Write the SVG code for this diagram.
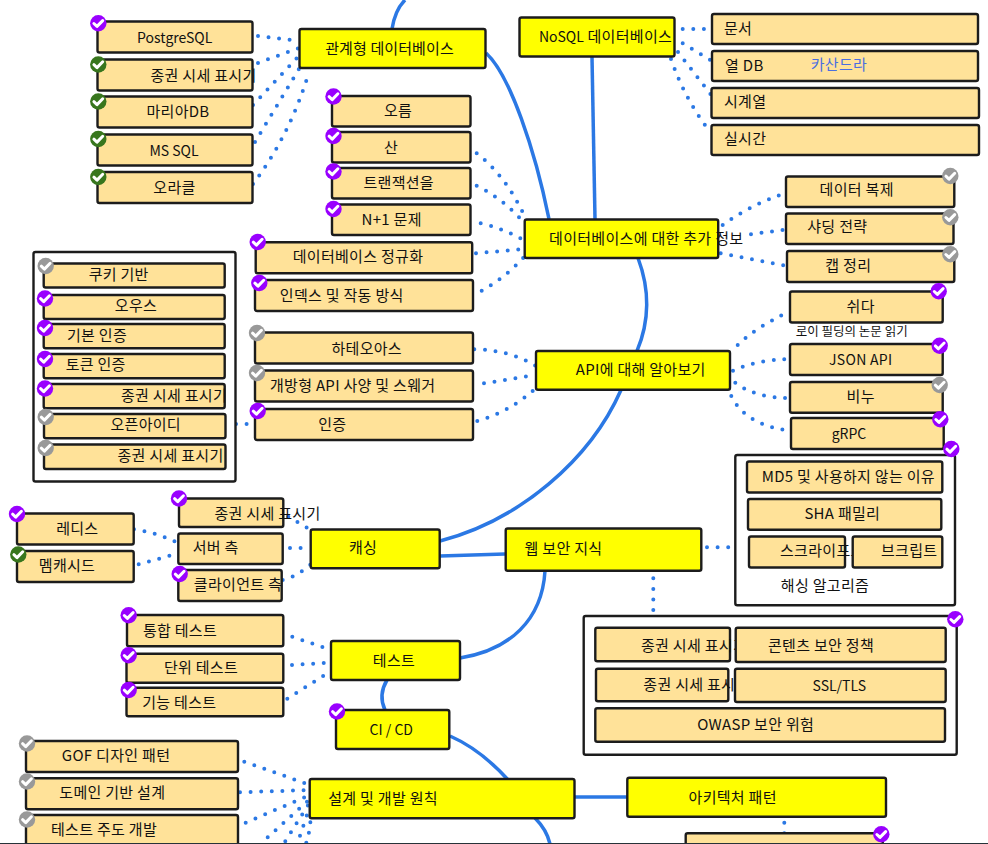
<svg xmlns="http://www.w3.org/2000/svg" width="988" height="844" viewBox="0 0 988 844">
<style>
text{font-family:"Noto Sans CJK KR","Noto Sans",sans-serif;font-size:15px;letter-spacing:.3px;fill:#111;text-anchor:middle}
.s{text-anchor:start}
.l{font-size:14px;letter-spacing:0}
.o{fill:#ffe299;stroke:#1c1c1c;stroke-width:2.4}
.y{fill:#ff0;stroke:#1c1c1c;stroke-width:2.4}
.w{fill:#fff;stroke:#1c1c1c;stroke-width:2.4}
.t{fill:none;stroke:#2b78e4;stroke-width:3.5}
.d{fill:none;stroke:#2b78e4;stroke-width:4;stroke-linecap:round;stroke-dasharray:0 10.6}
.p{fill:#90f}.g{fill:#38761d}.e{fill:#999}
.c{fill:none;stroke:#fff;stroke-width:3;stroke-linecap:round;stroke-linejoin:round}
</style>
<defs>
<g id="ck"><path class="c" d="M-4.400 0.200L-1.300 3.100L4.400 -2.700"/></g>
</defs>
<rect width="988" height="844" fill="#fff"/>
<g id="connectors">
<path class="t" d="M405 0Q395 10 392 29"/>
<path class="t" d="M486 53C510 75 535 150 549 219"/>
<path class="t" d="M592 57L595 219"/>
<path class="t" d="M638 258C650 290 650 320 637 351"/>
<path class="t" d="M621 390C590 460 520 520 440 541"/>
<path class="t" d="M440 556L505 554"/>
<path class="t" d="M545 571C542 620 510 650 460 658"/>
<path class="t" d="M387 680Q378 695 385 710"/>
<path class="t" d="M450 736C475 747 495 765 510 782"/>
<path class="t" d="M535 818C542 825 548 835 550 844"/>
<path class="t" d="M575 797L627 797"/>
<path class="d" d="M258 36L300 41"/>
<path class="d" d="M258 63L299 48"/>
<path class="d" d="M253 105L297 58"/>
<path class="d" d="M255 142L299 69"/>
<path class="d" d="M253 184Q290 135 309 72"/>
<path class="d" d="M682.700 29L712 29"/>
<path class="d" d="M682.700 43.300L712 61"/>
<path class="d" d="M678 52L712 96"/>
<path class="d" d="M671 59Q685 100 711 133"/>
<path class="d" d="M476.700 153.300Q505 175 524 215"/>
<path class="d" d="M476.700 185.700Q505 200 526 225"/>
<path class="d" d="M480.700 223.300Q505 229 525 241"/>
<path class="d" d="M476 253.300L525 249"/>
<path class="d" d="M481.700 290.700Q505 278 525 256"/>
<path class="d" d="M722.700 225Q750 205 786 193"/>
<path class="d" d="M751 234.300L786 229.500"/>
<path class="d" d="M720.700 253.300L787 266"/>
<path class="d" d="M474.300 349.300Q510 350 536 366"/>
<path class="d" d="M484 383.300L536 375"/>
<path class="d" d="M477.300 421Q510 412 537 387"/>
<path class="d" d="M737.700 345Q755 328 790 311"/>
<path class="d" d="M733 370.700Q755 360 790 359"/>
<path class="d" d="M735.300 382.700Q755 398 790 398"/>
<path class="d" d="M731.300 396Q745 425 791 431"/>
<path class="d" d="M707 547.300L735 547.300"/>
<path class="d" d="M653.300 578.300L653.300 616"/>
<path class="d" d="M236 424L255 424"/>
<path class="d" d="M134 529.300Q155 532 178 543"/>
<path class="d" d="M138.700 564.300L178 553.500"/>
<path class="d" d="M288.300 516.700L311 530"/>
<path class="d" d="M290 548L311 548"/>
<path class="d" d="M282.700 580Q298 576 311 564"/>
<path class="d" d="M292.300 636.700L331 650"/>
<path class="d" d="M292 665L331 662.500"/>
<path class="d" d="M287.300 698.700L331 671"/>
<path class="d" d="M244.300 761.700L310 785"/>
<path class="d" d="M240 792.300L310 790"/>
<path class="d" d="M245.700 822.700L310 795"/>
<path class="d" d="M267.700 837.300L310 799"/>
<path class="d" d="M285.300 841.300L310 802"/>
<path class="d" d="M300 835.700L310 806"/>
<path class="d" d="M306.300 842.700Q310 832 311 814"/>
<path class="d" d="M784.300 822.700L784.300 834"/>
</g>
<g id="n-postgres"><rect class="o" x="97.500" y="21.500" width="155" height="31" rx="2"/><text class="l" x="174.700" y="42.500">PostgreSQL</text><circle class="p" cx="98.300" cy="23.300" r="8.200"/><use href="#ck" x="98.300" y="23.300"/></g>
<g id="n-rel-quote"><rect class="o" x="97.500" y="59.500" width="155" height="31" rx="2"/><text x="203.500" y="80.500">종권 시세 표시기</text><circle class="g" cx="98.300" cy="64.500" r="8.200"/><use href="#ck" x="98.300" y="64.500"/></g>
<g id="n-maria"><rect class="o" x="97.500" y="96.500" width="155" height="31" rx="2"/><text x="178" y="116.500">마리아DB</text><circle class="g" cx="98.300" cy="101.500" r="8.200"/><use href="#ck" x="98.300" y="101.500"/></g>
<g id="n-mssql"><rect class="o" x="97.500" y="134.500" width="155" height="31" rx="2"/><text class="l" x="174" y="155.500">MS SQL</text><circle class="g" cx="98.300" cy="139" r="8.200"/><use href="#ck" x="98.300" y="139"/></g>
<g id="n-oracle"><rect class="o" x="97.500" y="172" width="155" height="31" rx="2"/><text x="174.500" y="192.500">오라클</text><circle class="g" cx="98.300" cy="177" r="8.200"/><use href="#ck" x="98.300" y="177"/></g>
<g id="n-relational"><rect class="y" x="299.500" y="29" width="186" height="39" rx="2"/><text x="389.500" y="53.500" style="letter-spacing:.1px">관계형 데이터베이스</text></g>
<g id="n-nosql"><rect class="y" x="519.500" y="17.500" width="155" height="39" rx="2"/><text x="605.500" y="41.500"><tspan class="l">NoSQL</tspan> 데이터베이스</text></g>
<g id="n-doc"><rect class="o" x="712" y="14" width="266" height="30" rx="2"/><text class="s" x="724" y="34">문서</text></g>
<g id="n-col"><rect class="o" x="712" y="51" width="266" height="30" rx="2"/><text class="s" x="725" y="71">열 DB</text><text class="s" x="810.700" y="70" style="fill:#4a6ee0">카산드라</text></g>
<g id="n-ts"><rect class="o" x="711.500" y="88" width="267.500" height="30" rx="2"/><text class="s" x="724" y="107">시계열</text></g>
<g id="n-rt"><rect class="o" x="711.500" y="125" width="267.500" height="30" rx="2"/><text class="s" x="724" y="144">실시간</text></g>
<g id="n-name"><rect class="o" x="332" y="96" width="138.500" height="30.500" rx="2"/><text x="398" y="116">오름</text><circle class="p" cx="333.500" cy="96.500" r="8.200"/><use href="#ck" x="333.500" y="96.500"/></g>
<g id="n-acid"><rect class="o" x="332" y="132" width="138.500" height="30.500" rx="2"/><text x="391" y="153">산</text><circle class="p" cx="333.500" cy="136" r="8.200"/><use href="#ck" x="333.500" y="136"/></g>
<g id="n-tx"><rect class="o" x="332" y="168" width="138.500" height="30.500" rx="2"/><text x="398.700" y="187.500">트랜잭션을</text><circle class="p" cx="333.500" cy="171.500" r="8.200"/><use href="#ck" x="333.500" y="171.500"/></g>
<g id="n-n1"><rect class="o" x="332" y="204.500" width="138.500" height="30.500" rx="2"/><text x="391.700" y="224.500">N+1 문제</text><circle class="p" cx="333.500" cy="209" r="8.200"/><use href="#ck" x="333.500" y="209"/></g>
<g id="n-norm"><rect class="o" x="255.700" y="242.300" width="216.500" height="31" rx="2"/><text x="358" y="262">데이터베이스 정규화</text><circle class="p" cx="257.700" cy="242" r="8.200"/><use href="#ck" x="257.700" y="242"/></g>
<g id="n-index"><rect class="o" x="255" y="280" width="218" height="31" rx="2"/><text x="341.700" y="301">인덱스 및 작동 방식</text><circle class="p" cx="259.300" cy="283" r="8.200"/><use href="#ck" x="259.300" y="283"/></g>
<g id="n-more-db"><rect class="y" x="524.700" y="219.500" width="193.500" height="38.500" rx="2"/><text x="646.200" y="243.500">데이터베이스에 대한 추가 정보</text></g>
<g id="n-replica"><rect class="o" x="786" y="176.500" width="168.300" height="30.500" rx="2"/><text x="856.700" y="195">데이터 복제</text><circle class="e" cx="950.300" cy="176" r="8.200"/><use href="#ck" x="950.300" y="176"/></g>
<g id="n-shard"><rect class="o" x="786" y="213.500" width="167.500" height="30.500" rx="2"/><text x="837.300" y="232">샤딩 전략</text><circle class="e" cx="950.300" cy="217.300" r="8.200"/><use href="#ck" x="950.300" y="217.300"/></g>
<g id="n-cap"><rect class="o" x="787" y="251" width="167.300" height="31" rx="2"/><text x="848.300" y="271">캡 정리</text><circle class="e" cx="950.300" cy="254.300" r="8.200"/><use href="#ck" x="950.300" y="254.300"/></g>
<g id="n-auth-box">
<rect class="w" x="33.500" y="252" width="202" height="229.500" rx="2"/>
<rect class="o" x="43.700" y="263.500" width="181" height="24" rx="2"/><text x="118.700" y="280">쿠키 기반</text><circle class="e" cx="45.700" cy="266" r="8.200"/><use href="#ck" x="45.700" y="266"/>
<rect class="o" x="43.700" y="295" width="181" height="24" rx="2"/><text x="136" y="311">오우스</text><circle class="p" cx="45" cy="298.500" r="8.200"/><use href="#ck" x="45" y="298.500"/>
<rect class="o" x="43.700" y="324" width="181" height="24.300" rx="2"/><text x="97" y="341">기본 인증</text><circle class="p" cx="45" cy="328" r="8.200"/><use href="#ck" x="45" y="328"/>
<rect class="o" x="43.700" y="354" width="181" height="24.300" rx="2"/><text x="95.700" y="370">토큰 인증</text><circle class="p" cx="45" cy="359" r="8.200"/><use href="#ck" x="45" y="359"/>
<rect class="o" x="43.700" y="384" width="181" height="24.300" rx="2"/><text x="174" y="401">종권 시세 표시기</text><circle class="p" cx="45" cy="388.500" r="8.200"/><use href="#ck" x="45" y="388.500"/>
<rect class="o" x="44" y="414" width="181.500" height="24.300" rx="2"/><text x="145.700" y="430">오픈아이디</text><circle class="e" cx="45.700" cy="417" r="8.200"/><use href="#ck" x="45.700" y="417"/>
<rect class="o" x="44" y="444.500" width="181.500" height="24.500" rx="2"/><text x="170.500" y="461">종권 시세 표시기</text><circle class="e" cx="45.700" cy="448" r="8.200"/><use href="#ck" x="45.700" y="448"/>
</g>
<g id="n-hateoas"><rect class="o" x="255" y="332.500" width="218" height="31" rx="2"/><text x="366.700" y="353.500">하테오아스</text><circle class="e" cx="257" cy="333" r="8.200"/><use href="#ck" x="257" y="333"/></g>
<g id="n-openapi"><rect class="o" x="255" y="370.500" width="218" height="31" rx="2"/><text x="352.700" y="390.500">개방형 API 사양 및 스웨거</text><circle class="e" cx="257" cy="373" r="8.200"/><use href="#ck" x="257" y="373"/></g>
<g id="n-auth"><rect class="o" x="255" y="409" width="218" height="31" rx="2"/><text x="332.300" y="429.500">인증</text><circle class="p" cx="257.700" cy="411" r="8.200"/><use href="#ck" x="257.700" y="411"/></g>
<g id="n-api"><rect class="y" x="536" y="351" width="194" height="38.700" rx="2"/><text x="640.700" y="375">API에 대해 알아보기</text></g>
<g id="n-rest"><rect class="o" x="790" y="291.500" width="152.700" height="31" rx="2"/><text x="860.700" y="312">쉬다</text><circle class="p" cx="938.700" cy="291.300" r="8.200"/><use href="#ck" x="938.700" y="291.300"/></g>
<text x="851.700" y="336" style="font-size:12.500px;letter-spacing:0">로이 필딩의 논문 읽기</text>
<g id="n-json"><rect class="o" x="790" y="344" width="152.700" height="31" rx="2"/><text class="l" x="860.700" y="364.500" style="letter-spacing:.3px">JSON API</text><circle class="p" cx="939.700" cy="345.700" r="8.200"/><use href="#ck" x="939.700" y="345.700"/></g>
<g id="n-soap"><rect class="o" x="790" y="382" width="152.700" height="30.700" rx="2"/><text x="860.700" y="402">비누</text><circle class="e" cx="939.700" cy="385" r="8.200"/><use href="#ck" x="939.700" y="385"/></g>
<g id="n-grpc"><rect class="o" x="791" y="418" width="152.700" height="31" rx="2"/><text class="l" x="849" y="439">gRPC</text><circle class="p" cx="940.300" cy="419.300" r="8.200"/><use href="#ck" x="940.300" y="419.300"/></g>
<g id="n-hash-box">
<rect class="w" x="735.300" y="455" width="219.700" height="150.300" rx="2"/>
<rect class="o" x="747" y="461.500" width="195.300" height="31" rx="2"/><text x="848.300" y="481.500">MD5 및 사용하지 않는 이유</text>
<rect class="o" x="748" y="499" width="193.300" height="30.700" rx="2"/><text x="842.300" y="519">SHA 패밀리</text>
<rect class="o" x="749" y="536.500" width="96" height="31" rx="2"/><text class="s" x="780" y="556">스크라이프트</text>
<rect class="o" x="852.700" y="536.500" width="89.600" height="31" rx="2"/><text class="s" x="881" y="556">브크립트</text>
<text x="825" y="590.500">해싱 알고리즘</text>
<circle class="p" cx="951.300" cy="449" r="8.200"/><use href="#ck" x="951.300" y="449"/>
</g>
<g id="n-redis"><rect class="o" x="17" y="513.500" width="116.700" height="31" rx="2"/><text x="77.300" y="534">레디스</text><circle class="p" cx="17" cy="514" r="8.200"/><use href="#ck" x="17" y="514"/></g>
<g id="n-memcached"><rect class="o" x="17" y="551" width="116.700" height="31" rx="2"/><text x="67" y="571">멤캐시드</text><circle class="g" cx="18.300" cy="554.500" r="8.200"/><use href="#ck" x="18.300" y="554.500"/></g>
<g id="n-cdn"><rect class="o" x="179" y="498.500" width="104.300" height="28.500" rx="2"/><text x="267.500" y="519">종권 시세 표시기</text><circle class="p" cx="179" cy="498.500" r="8.200"/><use href="#ck" x="179" y="498.500"/></g>
<g id="n-server"><rect class="o" x="178.300" y="533.500" width="104.400" height="30.500" rx="2"/><text x="215.700" y="553">서버 측</text></g>
<g id="n-client"><rect class="o" x="178.300" y="570" width="103.400" height="31" rx="2"/><text x="238" y="590">클라이언트 측</text><circle class="p" cx="179.700" cy="574" r="8.200"/><use href="#ck" x="179.700" y="574"/></g>
<g id="n-caching"><rect class="y" x="310.700" y="529.500" width="129" height="38.800" rx="2"/><text x="363" y="553">캐싱</text></g>
<g id="n-websec"><rect class="y" x="505.700" y="528.500" width="195.600" height="42.200" rx="2"/><text x="563.500" y="554">웹 보안 지식</text></g>
<g id="n-sec-box">
<rect class="w" x="583.700" y="616" width="373" height="138.700" rx="2"/>
<rect class="o" x="595.300" y="627.700" width="134.700" height="33.600" rx="2"/><text class="s" x="641" y="650.500">종권 시세 표시기</text>
<rect class="o" x="735.700" y="627.700" width="210" height="34.300" rx="2"/><text x="821" y="650.500">콘텐츠 보안 정책</text>
<rect class="o" x="596" y="668.700" width="132.300" height="32.600" rx="2"/><text class="s" x="643.300" y="690">종권 시세 표시기</text>
<rect class="o" x="735" y="668.700" width="210.700" height="33.300" rx="2"/><text class="l" x="839.300" y="690.500">SSL/TLS</text>
<rect class="o" x="595.300" y="708.300" width="349.700" height="33.400" rx="2"/><text x="755.700" y="730">OWASP 보안 위험</text>
<circle class="p" cx="955.300" cy="619.300" r="8.200"/><use href="#ck" x="955.300" y="619.300"/>
</g>
<g id="n-integration"><rect class="o" x="127" y="615" width="156.300" height="31.300" rx="2"/><text x="180" y="636">통합 테스트</text><circle class="p" cx="128.700" cy="615.300" r="8.200"/><use href="#ck" x="128.700" y="615.300"/></g>
<g id="n-unit"><rect class="o" x="126.500" y="653.700" width="156.800" height="29" rx="2"/><text x="201" y="673">단위 테스트</text><circle class="p" cx="128.700" cy="655.300" r="8.200"/><use href="#ck" x="128.700" y="655.300"/></g>
<g id="n-func"><rect class="o" x="126.500" y="687.700" width="156.800" height="28.600" rx="2"/><text x="179.300" y="708">기능 테스트</text><circle class="p" cx="128.700" cy="690" r="8.200"/><use href="#ck" x="128.700" y="690"/></g>
<g id="n-test"><rect class="y" x="331" y="641" width="129" height="39" rx="2"/><text x="394" y="666">테스트</text></g>
<g id="n-cicd"><rect class="y" x="336" y="710" width="113.300" height="39" rx="2"/><text class="l" x="391.300" y="735">CI / CD</text><circle class="p" cx="337" cy="711.500" r="8.200"/><use href="#ck" x="337" y="711.500"/></g>
<g id="n-gof"><rect class="o" x="26" y="741" width="212" height="31" rx="2"/><text x="116" y="761">GOF 디자인 패턴</text><circle class="e" cx="27" cy="743.500" r="8.200"/><use href="#ck" x="27" y="743.500"/></g>
<g id="n-ddd"><rect class="o" x="26" y="778.300" width="212" height="31" rx="2"/><text x="112.300" y="798">도메인 기반 설계</text><circle class="e" cx="27" cy="781.500" r="8.200"/><use href="#ck" x="27" y="781.500"/></g>
<g id="n-tdd"><rect class="o" x="26" y="815" width="212" height="40" rx="2"/><text x="104" y="834.500">테스트 주도 개발</text><circle class="e" cx="27" cy="819.500" r="8.200"/><use href="#ck" x="27" y="819.500"/></g>
<g id="n-design"><rect class="y" x="309.700" y="779" width="264.800" height="39.300" rx="2"/><text x="383" y="804">설계 및 개발 원칙</text></g>
<g id="n-arch"><rect class="y" x="627.300" y="777.700" width="258.700" height="39" rx="2"/><text x="732.700" y="802.500">아키텍처 패턴</text></g>
<g id="n-next"><rect class="o" x="685.700" y="833.300" width="197" height="30" rx="2"/><circle class="p" cx="881.300" cy="834.300" r="8.200"/><use href="#ck" x="881.300" y="834.300"/></g>
<rect x="0" y="843" width="988" height="1" fill="#263238"/>
</svg>
